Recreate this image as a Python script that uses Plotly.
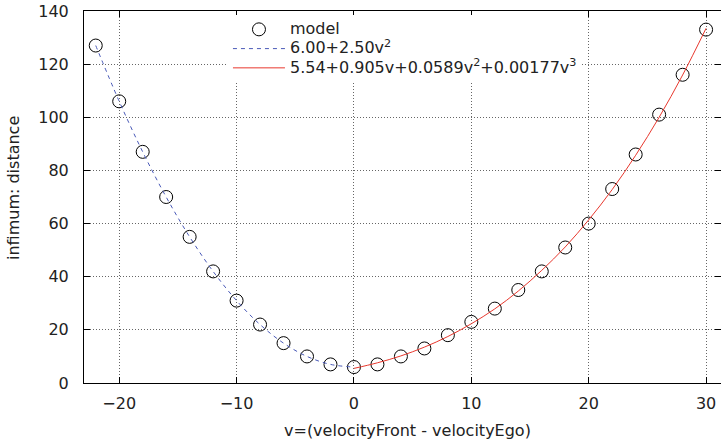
import plotly.graph_objects as go

# model points
v_model = [-22, -20, -18, -16, -14, -12, -10, -8, -6, -4, -2, 0, 2, 4, 6, 8, 10, 12, 14, 16, 18, 20, 22, 24, 26, 28, 30]
d_model = [127, 106, 87, 70, 55, 42, 31, 22, 15, 10, 7, 6, 7, 10, 13, 18, 23, 28, 35, 42, 51, 60, 73, 86, 101, 116, 133]

# quadratic fit curve (negative side)
v_quad = [-22, -20, -18, -16, -14, -12, -10, -8, -6, -4, -2, 0]
d_quad = [127, 106, 87, 70, 55, 42, 31, 22, 15, 10, 7, 6]

# cubic fit curve (positive side)
v_cub = [0, 2, 4, 6, 8, 10, 12, 14, 16, 18, 20, 22, 24, 26, 28, 30]
d_cub = [5.5, 7.6, 10.2, 13.5, 17.5, 22.3, 27.9, 34.6, 42.4, 51.2, 61.4, 72.8, 85.7, 100.0, 115.9, 133.5]

x_ticks = [-20, -10, 0, 10, 20, 30]
y_ticks = [0, 20, 40, 60, 80, 100, 120, 140]

names = ["model", "6.00+2.50v<sup>2</sup>", "5.54+0.905v+0.0589v<sup>2</sup>+0.00177v<sup>3</sup>"]

font = "DejaVu Sans"
txt = "#222"
fs = 16


def big(s):
    return "<span style='font-size:16px'>" + s + "</span>"


fig = go.Figure()
fig.add_trace(go.Scatter(
    x=v_model, y=d_model, mode="markers", name=big(names[0]),
    marker=dict(symbol="circle-open", size=13, color="black", line=dict(width=1, color="black")),
))
fig.add_trace(go.Scatter(
    x=v_quad, y=d_quad, mode="lines", name=big(names[1]),
    line=dict(color="#4a5ab8", width=1, dash="4px,4px", shape="spline"),
))
fig.add_trace(go.Scatter(
    x=v_cub, y=d_cub, mode="lines", name=big(names[2]),
    line=dict(color="#e8382e", width=1, shape="spline"),
))

axis_common = dict(
    showline=True, linecolor="black", linewidth=1, mirror="ticks",
    ticks="inside", ticklen=6, tickcolor="black", tickwidth=1,
    showgrid=True, gridcolor="#666", griddash="1px,2px", gridwidth=1,
    zeroline=False, automargin=False,
    tickfont=dict(family=font, size=fs, color=txt),
)

fig.update_layout(
    width=721, height=445,
    margin=dict(l=84, r=0, t=11, b=62),
    paper_bgcolor="white", plot_bgcolor="white",
    font=dict(family=font, size=fs, color=txt),
    xaxis=dict(range=[-23, 31.27], tickvals=x_ticks, ticklabelstandoff=6, **axis_common),
    yaxis=dict(range=[0, 140], tickvals=y_ticks, ticklabelstandoff=11, **axis_common),
    showlegend=True,
    legend=dict(x=0.226, y=0.99, xanchor="left", yanchor="top",
                bgcolor="white", borderwidth=0, font=dict(family=font, size=12.5, color=txt),
                itemwidth=52, tracegroupgap=0),
    annotations=[
        dict(text="v=(velocityFront - velocityEgo)", xref="paper", yref="paper",
             x=(407 - 84) / 637, y=-(431 - 383) / 372, xanchor="center", yanchor="middle",
             showarrow=False, font=dict(family=font, size=fs, color=txt)),
        dict(text="infimum: distance", xref="paper", yref="paper",
             x=-(84 - 13) / 637, y=(383 - 188) / 372, xanchor="center", yanchor="middle",
             textangle=-90, showarrow=False, font=dict(family=font, size=fs, color=txt)),
    ],
)

fig.write_html("out.html", config={"displayModeBar": False},
               post_script="document.body.style.margin='0';document.body.style.overflow='hidden';")
